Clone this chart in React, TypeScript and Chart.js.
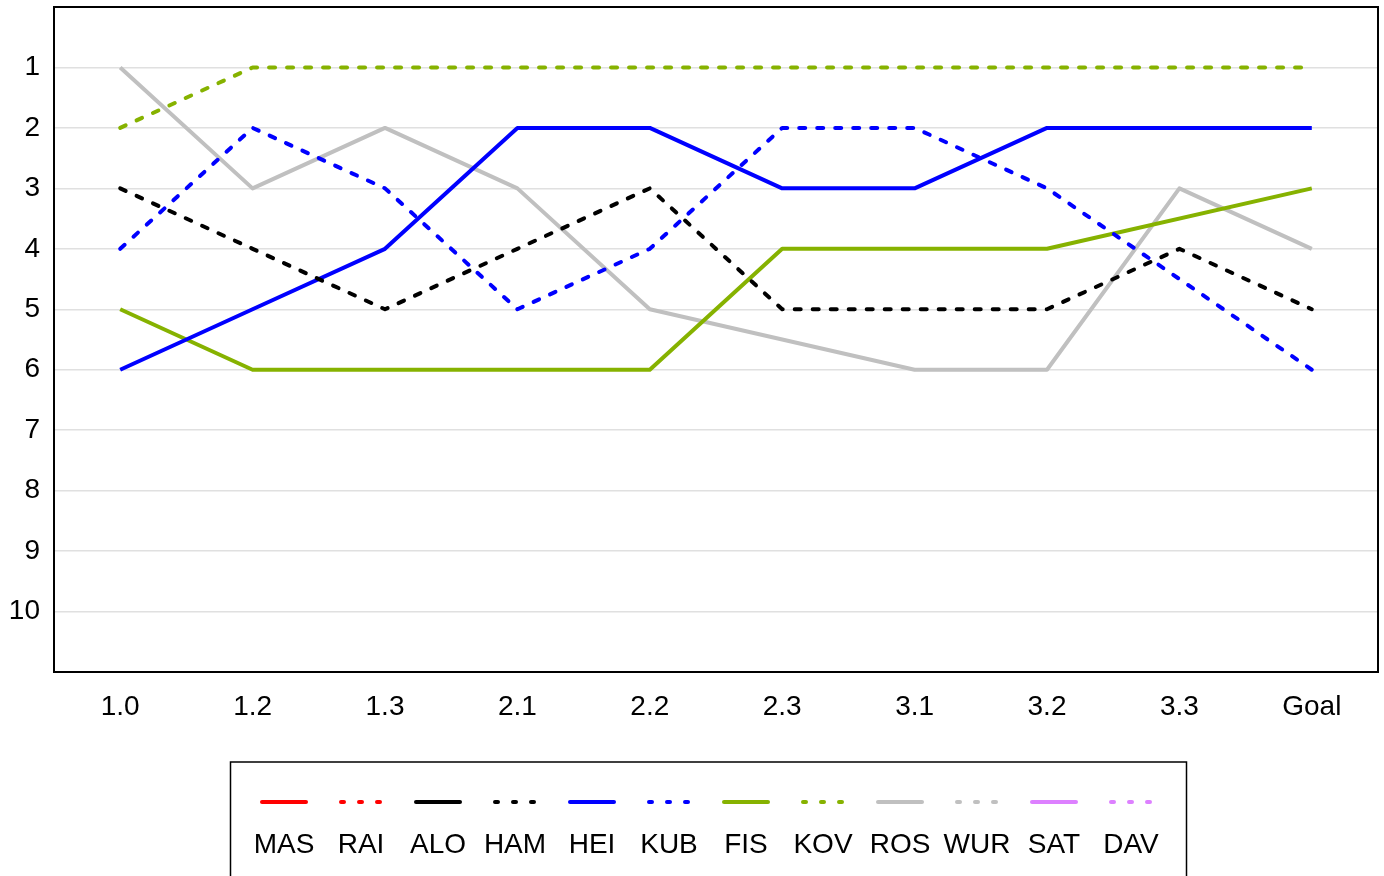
import React, { useEffect, useRef } from "react";
import { Chart, registerables } from "chart.js";

Chart.register(...registerables);

const stages = ["1.0", "1.2", "1.3", "2.1", "2.2", "2.3", "3.1", "3.2", "3.3", "Goal"];
const drivers = ["MAS", "RAI", "ALO", "HAM", "HEI", "KUB", "FIS", "KOV", "ROS", "WUR", "SAT", "DAV"];

const masPos = [null, null, null, null, null, null, null, null, null, null];
const raiPos = [null, null, null, null, null, null, null, null, null, null];
const aloPos = [null, null, null, null, null, null, null, null, null, null];
const hamPos = [3, 4, 5, 4, 3, 5, 5, 5, 4, 5];
const heiPos = [6, 5, 4, 2, 2, 3, 3, 2, 2, 2];
const kubPos = [4, 2, 3, 5, 4, 2, 2, 3, null, 6];
const fisPos = [5, 6, 6, 6, 6, 4, 4, 4, null, 3];
const kovPos = [2, 1, 1, 1, 1, 1, 1, 1, 1, 1];
const rosPos = [1, 3, 2, 3, 5, null, 6, 6, 3, 4];
const wurPos = [null, null, null, null, null, null, null, null, null, null];
const satPos = [null, null, null, null, null, null, null, null, null, null];
const davPos = [null, null, null, null, null, null, null, null, null, null];

const seriesValues = [masPos, raiPos, aloPos, hamPos, heiPos, kubPos, fisPos, kovPos, rosPos, wurPos, satPos, davPos];
const seriesColors = ["#ff0000", "#ff0000", "#000000", "#000000", "#0000ff", "#0000ff", "#86b200", "#86b200", "#c0c0c0", "#c0c0c0", "#dd80ff", "#dd80ff"];
const seriesDotted = [false, true, false, true, false, true, false, true, false, true, false, true];

const FONT = "'Liberation Sans', Arial, sans-serif";

const frameAndLegend = {
  id: "frameAndLegend",
  afterDraw(chart: any) {
    const { ctx, chartArea } = chart;
    ctx.save();
    ctx.strokeStyle = "#000";
    ctx.lineWidth = 2;
    ctx.strokeRect(chartArea.left, chartArea.top, chartArea.right - chartArea.left, chartArea.bottom - chartArea.top);

    // legend box
    ctx.lineWidth = 1.5;
    ctx.strokeRect(230.5, 762, 956, 140);
    const startX = 284;
    const step = 77;
    drivers.forEach((name, i) => {
      const cx = startX + step * i;
      ctx.strokeStyle = seriesColors[i];
      ctx.lineWidth = 4;
      ctx.lineCap = "round";
      ctx.beginPath();
      if (seriesDotted[i]) {
        ctx.setLineDash([3, 15]);
        ctx.moveTo(cx - 20, 802);
        ctx.lineTo(cx + 24, 802);
      } else {
        ctx.setLineDash([]);
        ctx.moveTo(cx - 22, 802);
        ctx.lineTo(cx + 22, 802);
      }
      ctx.stroke();
      ctx.setLineDash([]);
      ctx.fillStyle = "#000";
      ctx.font = `28px ${FONT}`;
      ctx.textAlign = "center";
      ctx.textBaseline = "middle";
      ctx.fillText(name, cx, 845);
    });
    ctx.restore();
  },
};

export default function App() {
  const canvasRef = useRef<HTMLCanvasElement | null>(null);

  useEffect(() => {
    if (!canvasRef.current) return;
    const chart = new Chart(canvasRef.current, {
      type: "line",
      data: {
        labels: stages,
        datasets: drivers.map((name, i) => ({
          label: name,
          data: seriesValues[i],
          borderColor: seriesColors[i],
          backgroundColor: seriesColors[i],
          borderWidth: 4,
          borderDash: seriesDotted[i] ? [6, 12] : [],
          borderCapStyle: seriesDotted[i] ? "round" : "butt",
          borderJoinStyle: "round",
          pointRadius: 0,
          pointHoverRadius: 0,
          tension: 0,
          spanGaps: true,
          fill: false,
        })),
      },
      options: {
        animation: false,
        responsive: true,
        maintainAspectRatio: false,
        layout: { padding: { left: 0, top: 7, right: 6, bottom: 144 } },
        plugins: {
          legend: { display: false },
          tooltip: { enabled: false },
        },
        scales: {
          x: {
            offset: true,
            grid: { display: false, drawTicks: false },
            border: { display: false },
            ticks: { color: "#000", font: { family: FONT, size: 28 }, padding: 18, maxRotation: 0, autoSkip: false },
            afterFit: (scale: any) => {
              scale.height = 60;
            },
          },
          y: {
            reverse: true,
            min: 0,
            max: 11,
            grid: { color: "#e0e0e0", lineWidth: 1.5, drawTicks: false },
            border: { display: false },
            ticks: { stepSize: 1, color: "#000", font: { family: FONT, size: 28 }, padding: 14 },
            afterBuildTicks: (scale: any) => {
              scale.ticks = scale.ticks.filter((t: any) => t.value >= 1 && t.value <= 10);
            },
            afterFit: (scale: any) => {
              scale.width = 54;
              scale.paddingTop = 0;
              scale.paddingBottom = 0;
            },
          },
        },
      },
      plugins: [frameAndLegend],
    });
    return () => chart.destroy();
  }, []);

  return (
    <div style={{ position: "fixed", left: 0, top: 0, width: 1384, height: 876, background: "#fff" }}>
      <canvas ref={canvasRef} />
    </div>
  );
}
